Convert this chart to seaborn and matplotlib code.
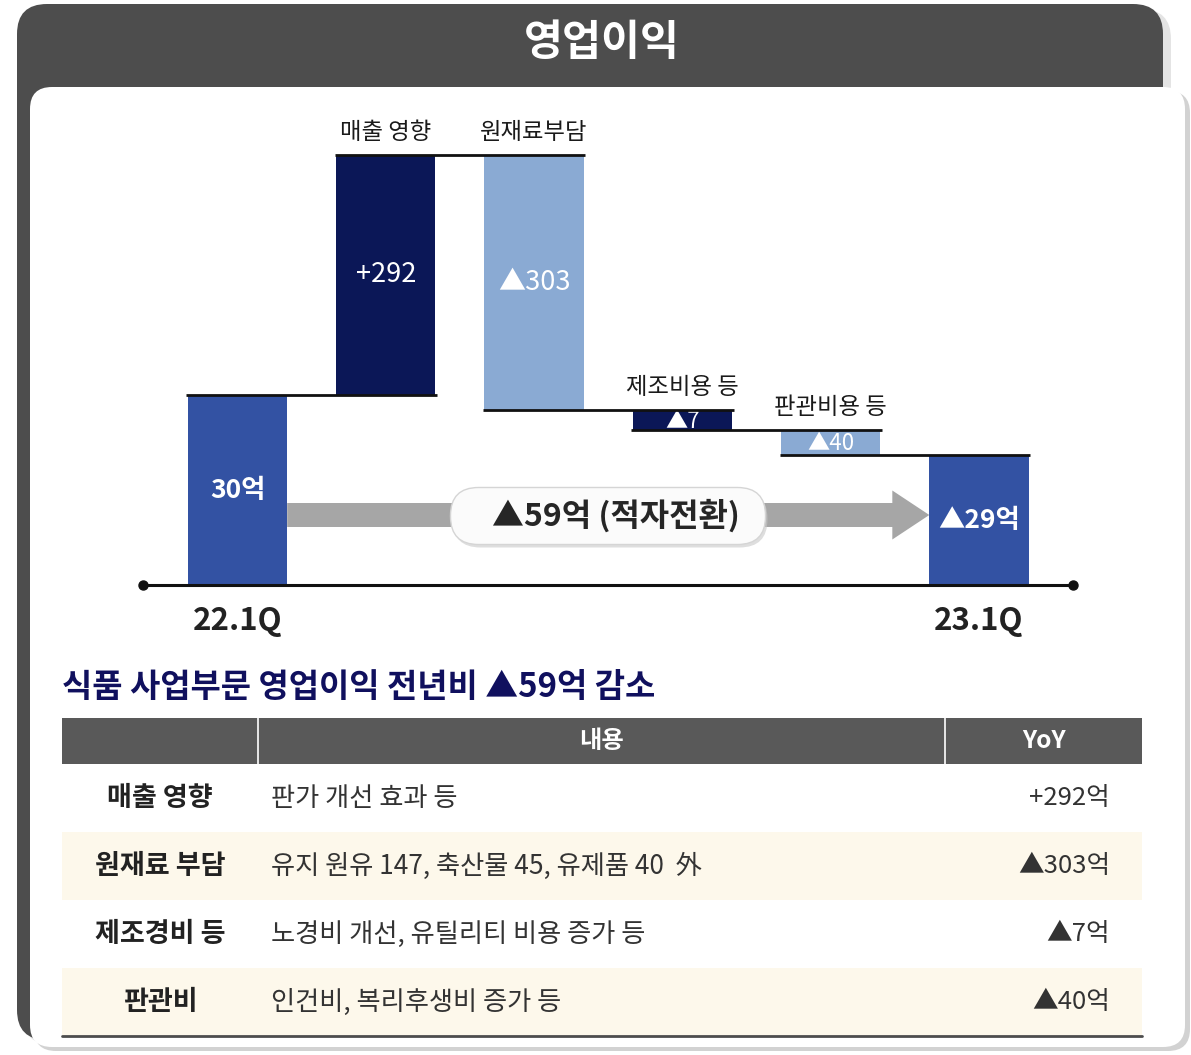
import numpy as np
import pandas as pd
import matplotlib
matplotlib.use("Agg")
import matplotlib.pyplot as plt
from matplotlib.patches import FancyBboxPatch, Rectangle, Polygon
from matplotlib.transforms import Bbox, TransformedBbox
import seaborn as sns

# ---------------- data ----------------
title = "영업이익"
steps = ["22.1Q", "매출 영향", "원재료부담", "제조비용 등", "판관비용 등", "23.1Q"]
step_values = [30, 292, -303, -7, -40, -29]          # 억원 (first = start, last = result)
# schematic (not to scale) cumulative levels as drawn in the picture
drawn_levels = [190, 430, 175, 155, 130]
total_change_label = "▲59억 (적자전환)"
subtitle = "식품 사업부문 영업이익 전년비 ▲59억 감소"
table_header = ["", "내용", "YoY"]
table_items = ["매출 영향", "원재료 부담", "제조경비 등", "판관비"]
table_details = ["판가 개선 효과 등",
                 "유지 원유 147, 축산물 45, 유제품 40  外",
                 "노경비 개선, 유틸리티 비용 증가 등",
                 "인건비, 복리후생비 증가 등"]
table_yoy = [292, -303, -7, -40]


def fmt_delta(v, unit=""):
    return ("+%d" % v if v > 0 else "▲%d" % abs(v)) + unit


# ---------------- style ----------------
sns.set_theme(style="white")
plt.rcParams["font.family"] = ["Noto Sans CJK KR", "DejaVu Sans"]
plt.rcParams["axes.unicode_minus"] = False

C_TOTAL = "#3352a3"
C_UP = "#0b1757"
C_DOWN = "#8aaad3"
bar_colors = [C_TOTAL, C_UP, C_DOWN, C_UP, C_DOWN, C_TOTAL]

fig = plt.figure(figsize=(11.91, 10.55), dpi=100)
fig.patch.set_facecolor("white")

# ---------------- background (pixel coordinates) ----------------
bg = fig.add_axes([0, 0, 1, 1], zorder=0)
bg.set_xlim(0, 1191)
bg.set_ylim(1055, 0)
bg.axis("off")

bg.add_patch(FancyBboxPatch((23, 9), 1148, 1036, boxstyle="round,pad=0,rounding_size=30",
                            fc="#e4e4e4", ec="none"))
bg.add_patch(FancyBboxPatch((17, 4), 1146, 1036, boxstyle="round,pad=0,rounding_size=30",
                            fc="#4d4d4d", ec="none"))
bg.add_patch(FancyBboxPatch((34, 91), 1156, 960, boxstyle="round,pad=0,rounding_size=22",
                            fc="#d2d2d2", ec="none"))
inner = FancyBboxPatch((30, 87), 1155, 960, boxstyle="round,pad=0,rounding_size=22",
                       fc="white", ec="none")
bg.add_patch(inner)
X, Y = np.meshgrid(np.linspace(0, 1, 300), np.linspace(0, 1, 250))
t = (X * 1.2 + Y) / 2.2
val = 0.94 + 0.06 * np.clip(t / 0.3, 0, 1)
im = bg.imshow(val, cmap="gray", vmin=0, vmax=1, extent=(30, 1185, 1047, 87),
               aspect="auto", origin="upper", interpolation="bilinear")
im.set_clip_path(inner)
bg.set_xlim(0, 1191)
bg.set_ylim(1055, 0)

bg.text(602, 43, title, color="white", fontsize=30.5, fontweight="bold",
        ha="center", va="center")

# ---------------- waterfall chart ----------------
px_left, px_right, px_base, px_top, below = 143, 1073, 585, 100, 70
ax = fig.add_axes([px_left / 1191, (1055 - px_base - below) / 1055,
                   (px_right - px_left) / 1191, (px_base - px_top + below) / 1055], zorder=1)
ax.patch.set_alpha(0)
spacing = 148.3
x0_px = 237.5
xlim = ((px_left - x0_px) / spacing, (px_right - x0_px) / spacing)
bar_w = 0.67

starts = [0] + drawn_levels[:4] + [0]
ends = drawn_levels + [drawn_levels[-1]]
bottoms = [min(s, e) for s, e in zip(starts, ends)]
heights = [abs(e - s) for s, e in zip(starts, ends)]

df = pd.DataFrame({"step": steps, "height": heights})
sns.barplot(data=df, x="step", y="height", hue="step", order=steps, hue_order=steps,
            palette=bar_colors, width=bar_w, saturation=1, legend=False, ax=ax,
            linewidth=0, zorder=2)
bars = sorted(ax.patches, key=lambda p: p.get_x())
for p, b, h in zip(bars, bottoms, heights):
    p.set_y(b)
    p.set_height(h)

ax.set_xlim(*xlim)
ax.set_ylim(-below, px_base - px_top)
ax.axis("off")

# connectors
for i in range(len(steps) - 1):
    lvl = ends[i]
    ax.plot([i - bar_w / 2 - 0.01, i + 1 + bar_w / 2 + 0.01], [lvl, lvl], color="#111111",
            lw=2, zorder=4, solid_capstyle="butt")

# baseline with end dots
ax.plot(list(xlim), [0, 0], color="#111111", lw=2.2, zorder=4, clip_on=False)
ax.plot(list(xlim), [0, 0], "o", color="#111111", ms=6.5, zorder=5, clip_on=False)

# gray arrow from start bar to end bar
ay, shaft, head = 70, 12, 24.5
xs = 0 + bar_w / 2
xt = (len(steps) - 1) - bar_w / 2
xh = xt - 37 / spacing
arrow = Polygon([(xs, ay + shaft), (xh, ay + shaft), (xh, ay + head), (xt, ay),
                 (xh, ay - head), (xh, ay - shaft), (xs, ay - shaft)],
                closed=True, fc="#a6a6a6", ec="none", zorder=1.5)
ax.add_patch(arrow)

# pill label (pixel coordinates)
pill_cx, pill_cy, pill_w, pill_h = 608, 516, 315, 57
ax.add_patch(FancyBboxPatch((pill_cx - pill_w / 2 + 2, pill_cy - pill_h / 2 + 3), pill_w, pill_h,
                            boxstyle="round,pad=0,rounding_size=28", fc="#c8c8c8", ec="none",
                            alpha=0.6, transform=bg.transData, zorder=6, clip_on=False))
ax.add_patch(FancyBboxPatch((pill_cx - pill_w / 2, pill_cy - pill_h / 2), pill_w, pill_h,
                            boxstyle="round,pad=0,rounding_size=28", fc="#fbfbfb", ec="#d5d5d5",
                            lw=1, transform=bg.transData, zorder=7, clip_on=False))
ax.text(pill_cx + 8, pill_cy, total_change_label, transform=bg.transData, fontsize=23,
        fontweight="bold", color="#262626", ha="center", va="center", zorder=8)

# labels
n = len(steps)
for i, (p, v) in enumerate(zip(bars, step_values)):
    cy = bottoms[i] + heights[i] / 2
    if i == 0:
        txt = "%d억" % v
        ax.text(i, cy, txt, color="white", fontsize=19, fontweight="bold",
                ha="center", va="center", zorder=6)
    elif i == n - 1:
        txt = fmt_delta(v, "억")
        ax.text(i, cy, txt, color="white", fontsize=19, fontweight="bold",
                ha="center", va="center", zorder=6)
    else:
        small = heights[i] < 40
        t_ = ax.text(i, cy - (1 if small else 0), fmt_delta(v), color="white",
                     fontsize=16 if small else 19.5, ha="center", va="center", zorder=3)
        if small:
            t_.set_clip_box(TransformedBbox(
                Bbox.from_bounds(i - bar_w / 2, bottoms[i], bar_w, heights[i]), ax.transData))
            t_.set_clip_on(True)
        top = max(starts[i], ends[i])
        ax.text(i, top + 23, steps[i], color="#1a1a1a", fontsize=16.8,
                ha="center", va="center", zorder=6)

for i in (0, n - 1):
    ax.text(i, -36, steps[i], color="#222222", fontsize=22.5, fontweight="bold",
            ha="center", va="center", zorder=6, clip_on=False)

# ---------------- subtitle & table (pixel coordinates) ----------------
bg.text(62, 688, subtitle, color="#10105e", fontsize=23.7, fontweight="bold",
        ha="left", va="center", zorder=3)

tx0, tx1 = 62, 1142
col_div = [258, 945]
hdr_top, hdr_h, row_h = 718, 46, 68
bg.add_patch(Rectangle((tx0, hdr_top), tx1 - tx0, hdr_h, fc="#595959", ec="none", zorder=3))
for cx in col_div:
    bg.plot([cx, cx], [hdr_top, hdr_top + hdr_h], color="white", lw=1.2, zorder=4)
bg.text((col_div[0] + col_div[1]) / 2, hdr_top + hdr_h / 2, table_header[1], color="white",
        fontsize=17.5, fontweight="bold", ha="center", va="center", zorder=5)
bg.text((col_div[1] + tx1) / 2, hdr_top + hdr_h / 2, table_header[2], color="white",
        fontsize=17.5, fontweight="bold", ha="center", va="center", zorder=5)

for r, (item, det, yoy) in enumerate(zip(table_items, table_details, table_yoy)):
    y0 = hdr_top + hdr_h + r * row_h
    if r % 2 == 1:
        bg.add_patch(Rectangle((tx0, y0), tx1 - tx0, row_h, fc="#fdf8eb", ec="none", zorder=3))
    cy = y0 + row_h / 2
    bg.text(160, cy, item, color="#222222", fontsize=19.5, fontweight="bold",
            ha="center", va="center", zorder=5)
    bg.text(271, cy, det, color="#333333", fontsize=18.9, ha="left", va="center", zorder=5)
    bg.text(1110, cy, fmt_delta(yoy, "억"), color="#333333", fontsize=18.5,
            ha="right", va="center", zorder=5)
bot = hdr_top + hdr_h + len(table_items) * row_h
bg.plot([tx0, tx1], [bot, bot], color="#4d4d4d", lw=2, zorder=5)

fig.savefig("out.png", dpi=100, facecolor="white")
